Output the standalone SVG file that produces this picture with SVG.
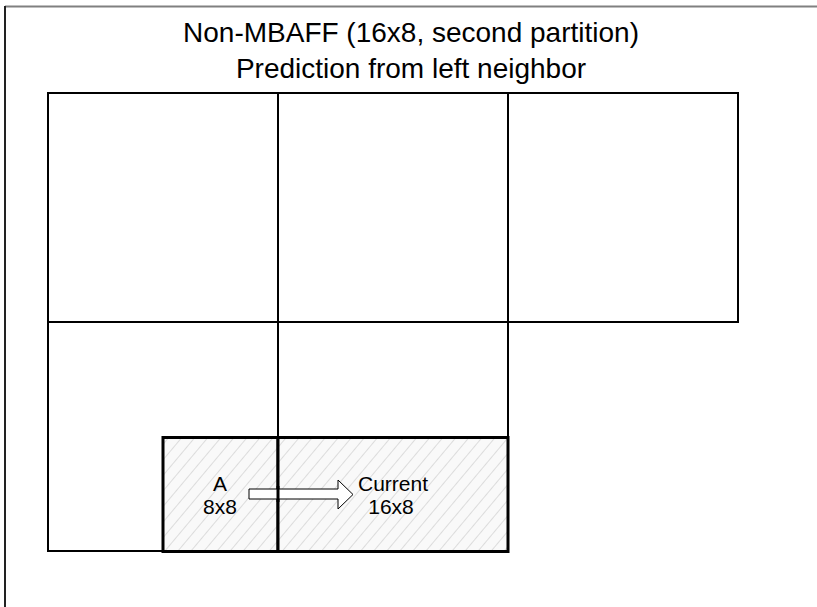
<svg xmlns="http://www.w3.org/2000/svg" width="817" height="607" viewBox="0 0 817 607">
  <defs>
    <pattern id="hatch" patternUnits="userSpaceOnUse" width="10" height="10" patternTransform="rotate(40)">
      <rect width="10" height="10" fill="#f9f9f9"/>
      <line x1="0" y1="0" x2="0" y2="10" stroke="#dcdcdc" stroke-width="2"/>
    </pattern>
  </defs>
  <style>
    .mb { fill: #ffffff; stroke: #000000; stroke-width: 2; }
    .part { fill: url(#hatch); stroke: #000000; stroke-width: 3; }
    .title { font-family: "Liberation Sans", Arial, sans-serif; font-size: 28px; fill: #000000; text-anchor: middle; }
    .lbl { font-family: "Liberation Sans", Arial, sans-serif; font-size: 21px; fill: #000000; text-anchor: middle; }
    .arrow { fill: #ffffff; stroke: #000000; stroke-width: 1; }
  </style>

  <rect width="817" height="607" fill="#ffffff"/>
  <!-- page frame -->
  <line x1="5" y1="6.5" x2="817" y2="6.5" stroke="#808080" stroke-width="2"/>
  <line x1="5" y1="6" x2="5" y2="607" stroke="#222222" stroke-width="2"/>

  <text class="title" x="411" y="42">Non-MBAFF (16x8, second partition)</text>
  <text class="title" x="411" y="78">Prediction from left neighbor</text>

  <!-- macroblocks -->
  <g id="mb-top-left"><rect class="mb" x="48" y="93" width="230" height="229"/></g>
  <g id="mb-top"><rect class="mb" x="278" y="93" width="230" height="229"/></g>
  <g id="mb-top-right"><rect class="mb" x="508" y="93" width="230" height="229"/></g>
  <g id="mb-left"><rect class="mb" x="48" y="322" width="230" height="229"/></g>
  <g id="mb-current"><rect class="mb" x="278" y="322" width="230" height="229"/></g>

  <!-- neighbour partition A -->
  <g id="part-a">
    <rect class="part" x="163" y="437.5" width="115" height="114"/>
    <text class="lbl" x="220" y="491">A</text>
    <text class="lbl" x="220" y="514">8x8</text>
  </g>
  <!-- current 16x8 partition -->
  <g id="part-current">
    <rect class="part" x="278" y="437.5" width="230" height="114"/>
    <text class="lbl" x="393" y="491">Current</text>
    <text class="lbl" x="391" y="514">16x8</text>
  </g>

  <g id="connectors">
    <path class="arrow" d="M249,489 L338,489 L338,480 L353,494.5 L338,509 L338,499 L249,499 Z"/>
    <line x1="278" y1="486" x2="278" y2="502" stroke="#000000" stroke-width="3"/>
  </g>
</svg>
